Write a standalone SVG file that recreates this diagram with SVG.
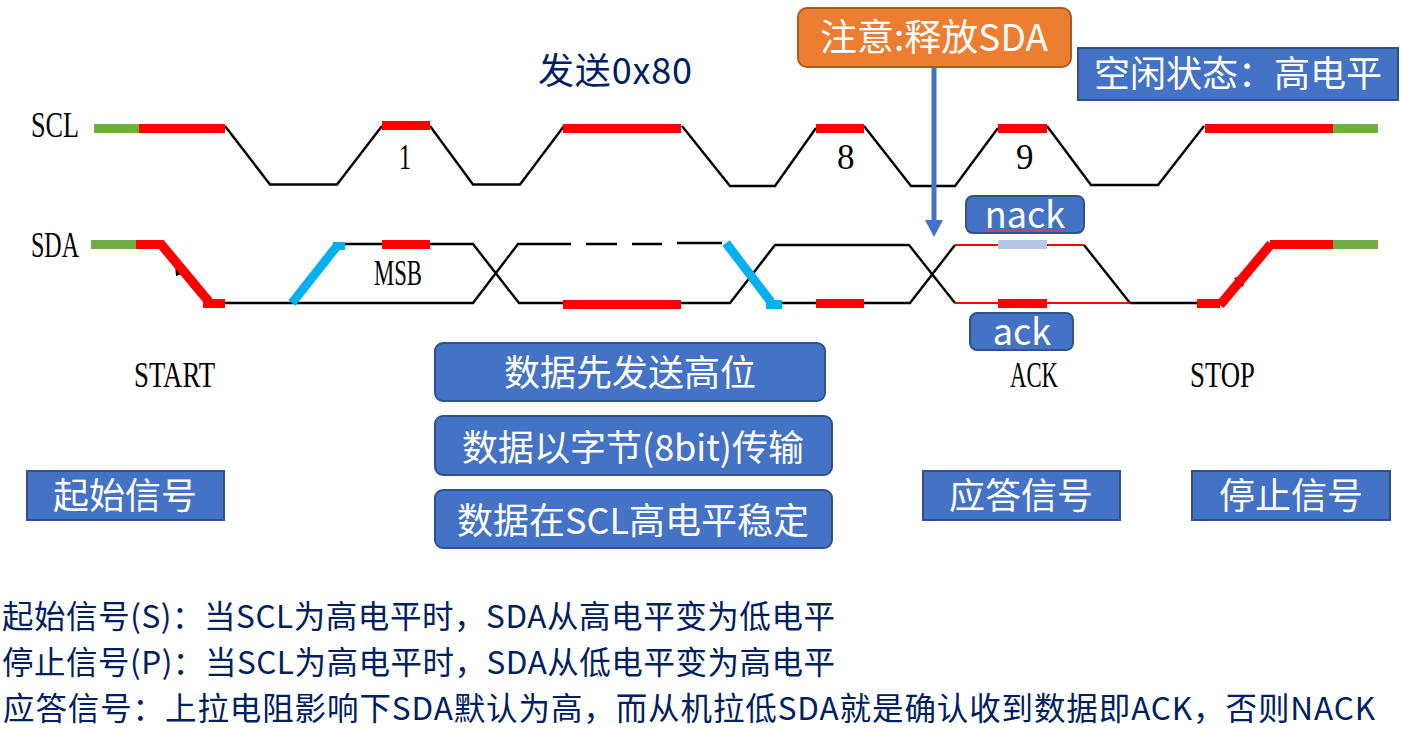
<svg xmlns="http://www.w3.org/2000/svg" width="1401" height="731" viewBox="0 0 1401 731">
<style>
text{font-family:"Noto Sans CJK SC","Noto Sans",sans-serif}
.sig{font-family:"Liberation Serif",serif;font-size:35px;fill:#000}
.lbl{fill:#fff;text-anchor:middle;font-size:36px}
.note{fill:#002060;font-size:31.5px}
.box{fill:#4472c4;stroke:#2f528f;stroke-width:2}
.w{fill:none;stroke:#000;stroke-width:2.4}
.r{fill:#f00}.g{fill:#70ad47}.c{fill:#00b0f0}
.rl{fill:none;stroke:#f00;stroke-width:2}
.rt{fill:none;stroke:#f00;stroke-width:9.500}
.ct{fill:none;stroke:#00b0f0;stroke-width:9}
</style>
<rect width="1401" height="731" fill="#fff"/>
<g id="connectors">
<!-- SCL clock trace -->
<path class="w" d="M225 126L270 184.500H337L382 126M430 126L473 184.500H520L564 126M682 126L730 186H775L816 128M864 126L911 186H955L998 128M1047 126L1091 185H1158L1204 126"/>
<!-- SDA data trace -->
<path class="w" d="M225 303H473L518 244H571M586 244H617M632 244H662M677 243H722M338 244H473L519 303H730L775 245H909L955 303M773 303H910L955 245M1130 303H1197M1084 245L1130 303"/>
<path class="rl" d="M955 245H1084M955 303H1130"/>
<!-- small arrow tips under the slanted edges -->
<path d="M175 265L188 272L176 276Z" fill="#000"/>
<path d="M1234 278L1246 275L1243 287Z" fill="#000"/>
<path class="rt" d="M160 243L210 303"/>
<path class="rt" d="M1220 305L1271 244"/>
<path class="ct" d="M292 303L337 246"/>
<path class="ct" d="M726 243L771 302"/>
<!-- level bars -->
<rect class="g" x="94" y="124" width="45" height="9"/>
<rect class="r" x="139" y="124" width="86" height="9"/>
<rect class="r" x="382" y="121" width="48" height="9"/>
<rect class="r" x="563" y="124" width="118" height="9"/>
<rect class="r" x="816" y="124" width="48" height="9"/>
<rect class="r" x="998" y="124" width="49" height="9"/>
<rect class="r" x="1205" y="124" width="128" height="9"/>
<rect class="g" x="1333" y="124" width="45" height="9"/>
<rect class="g" x="91" y="240" width="45" height="9"/>
<rect class="r" x="136" y="240" width="28" height="9"/>
<rect class="r" x="203" y="299" width="22" height="9"/>
<rect class="c" x="333" y="242" width="12" height="8"/>
<rect class="r" x="382" y="240" width="48" height="9"/>
<rect class="r" x="563" y="300" width="118" height="9"/>
<rect class="c" x="766" y="300" width="16" height="9"/>
<rect class="r" x="816" y="299" width="48" height="9"/>
<rect x="998" y="240" width="49" height="9" fill="#b4c7e7"/>
<rect class="r" x="998" y="299" width="49" height="9"/>
<rect class="r" x="1197" y="299" width="23" height="9"/>
<rect class="r" x="1270" y="240" width="63" height="9"/>
<rect class="g" x="1333" y="240" width="45" height="9"/>
<!-- release pointer -->
<path d="M934 67V222" fill="none" stroke="#4472c4" stroke-width="5"/>
<path d="M925 220H943L934 237Z" fill="#4472c4"/>
</g>
<g id="signal-labels">
<text class="sig" x="31" y="137" textLength="48" lengthAdjust="spacingAndGlyphs">SCL</text>
<text class="sig" x="31" y="257" textLength="48" lengthAdjust="spacingAndGlyphs">SDA</text>
<text class="sig" x="399" y="169" textLength="12" lengthAdjust="spacingAndGlyphs">1</text>
<text class="sig" x="837" y="169">8</text>
<text class="sig" x="1016" y="169">9</text>
<text class="sig" x="374" y="285" textLength="48" lengthAdjust="spacingAndGlyphs">MSB</text>
<text class="sig" x="134" y="387" textLength="81" lengthAdjust="spacingAndGlyphs">START</text>
<text class="sig" x="1010" y="387" textLength="48" lengthAdjust="spacingAndGlyphs">ACK</text>
<text class="sig" x="1190" y="387" textLength="65" lengthAdjust="spacingAndGlyphs">STOP</text>
</g>
<g id="title"><text x="538" y="84" font-size="36" fill="#002060" textLength="154">发送0x80</text></g>
<g id="release-note">
<rect x="798" y="8" width="273" height="59" rx="9" fill="#ed7d31" stroke="#ae5a21" stroke-width="2"/>
<text class="lbl" x="934" y="51" style="font-size:37px">注意:释放SDA</text>
</g>
<g id="idle-note">
<rect class="box" x="1078" y="48" width="320" height="52"/>
<text class="lbl" x="1238" y="87">空闲状态：高电平</text>
</g>
<g id="nack">
<rect class="box" x="966" y="196" width="118" height="37" rx="7"/>
<text class="lbl" x="1025" y="228">nack</text>
<path d="M985 231l2-1.500 2 1.500 2-1.500 2 1.500 2-1.500 2 1.500 2-1.500 2 1.500 2-1.500 2 1.500 2-1.500 2 1.500 2-1.500 2 1.500 2-1.500 2 1.500 2-1.500 2 1.500 2-1.500 2 1.500 2-1.500 2 1.500 2-1.500 2 1.500 2-1.500 2 1.500 2-1.500 2 1.500 2-1.500 2 1.500 2-1.500 2 1.500 2-1.500 2 1.500 2-1.500 2 1.500 2-1.500 2 1.500 2-1.500" fill="none" stroke="#e04040" stroke-width="1"/>
</g>
<g id="ack">
<rect class="box" x="970" y="313" width="103" height="37" rx="7"/>
<text class="lbl" x="1022" y="345">ack</text>
</g>
<g id="data-note-1">
<rect class="box" x="435" y="343" width="390" height="58" rx="8"/>
<text class="lbl" x="630" y="386">数据先发送高位</text>
</g>
<g id="data-note-2">
<rect class="box" x="435" y="416" width="397" height="59" rx="8"/>
<text class="lbl" x="633" y="461">数据以字节(8bit)传输</text>
</g>
<g id="data-note-3">
<rect class="box" x="435" y="490" width="397" height="58" rx="8"/>
<text class="lbl" x="633" y="534">数据在SCL高电平稳定</text>
</g>
<g id="start-note">
<rect class="box" x="27" y="471" width="197" height="49"/>
<text class="lbl" x="125" y="509">起始信号</text>
</g>
<g id="ack-note">
<rect class="box" x="923" y="471" width="197" height="49"/>
<text class="lbl" x="1021" y="509">应答信号</text>
</g>
<g id="stop-note">
<rect class="box" x="1192" y="471" width="198" height="49"/>
<text class="lbl" x="1291" y="509">停止信号</text>
</g>
<g id="notes">
<text class="note" x="2" y="628" textLength="833">起始信号(S)：当SCL为高电平时，SDA从高电平变为低电平</text>
<text class="note" x="2" y="674" textLength="833">停止信号(P)：当SCL为高电平时，SDA从低电平变为高电平</text>
<text class="note" x="3" y="720" textLength="1372">应答信号：上拉电阻影响下SDA默认为高，而从机拉低SDA就是确认收到数据即ACK，否则NACK</text>
</g>
</svg>
